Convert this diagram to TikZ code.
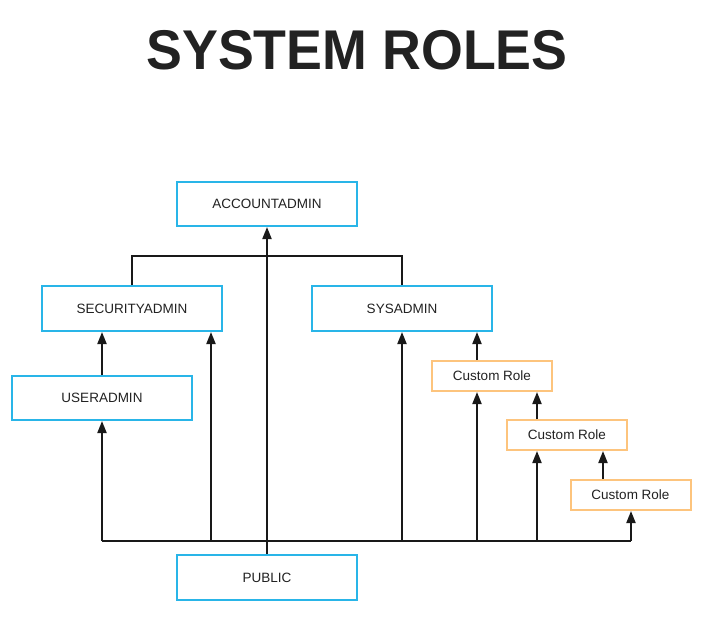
\documentclass[tikz,border=0pt]{standalone}
\usepackage{fontspec}
\setmainfont{Liberation Sans}
\usetikzlibrary{arrows.meta}
\definecolor{roleblue}{HTML}{29B5E8}
\definecolor{roleorange}{HTML}{FDC47D}
\definecolor{txt}{HTML}{222222}
\tikzset{
  sysrole/.style={draw=roleblue, line width=2pt, fill=white, minimum width=180pt, minimum height=44pt, inner sep=0pt, font=\fontsize{13.5}{15}\selectfont, text=txt},
  customrole/.style={draw=roleorange, line width=2pt, fill=white, minimum width=120pt, minimum height=30pt, inner sep=0pt, font=\fontsize{13.5}{15}\selectfont, text=txt},
  link/.style={draw=black!90, line width=2pt},
  up/.style={link, -{Triangle[length=12pt,width=9pt]}},
}
\begin{document}
\begin{tikzpicture}[x=1pt,y=-1pt]
\useasboundingbox (0,0) rectangle (705,633);
\node[anchor=base, text=txt] (title) at (357,69) {\scalebox{0.96}[1]{\fontsize{56}{60}\selectfont\bfseries SYSTEM ROLES}};

\node[sysrole] (acc) at (267,204) {ACCOUNTADMIN};
\node[sysrole, minimum height=45pt] (sec) at (132,308.5) {SECURITYADMIN};
\node[sysrole, minimum height=45pt] (sys) at (402,308.5) {SYSADMIN};
\node[sysrole] (usr) at (102,398) {USERADMIN};
\node[customrole] (c1) at (492,376) {Custom Role};
\node[customrole] (c2) at (567,435) {Custom Role};
\node[customrole] (c3) at (630.5,495) {Custom Role};
\node[sysrole, minimum height=45pt] (pub) at (267,577.5) {PUBLIC};

\coordinate (busL) at (102,541);
\coordinate (b2) at (211,541);
\coordinate (b4) at (402,541);
\coordinate (b5) at (477,541);
\coordinate (b6) at (537,541);
\coordinate (busR) at (631,541);
\coordinate (top) at (0,256);
\coordinate (c3x) at (603,0);

% bus
\draw[link] (busL) -- (busR);
% parent connector
\draw[link] (sec.north) -- (sec.north |- top) -| (sys.north);
% arrows from bus
\draw[up] (busL) -- (usr.south);
\draw[up] (b2) -- (sec.south -| b2);
\draw[up] (pub.north) -- (acc.south);
\draw[up] (b4) -- (sys.south);
\draw[up] (b5) -- (c1.south -| b5);
\draw[up] (b6) -- (c2.south -| b6);
\draw[up] (busR) -- (c3.south -| busR);
% chained arrows
\draw[up] (usr.north) -- (sec.south -| usr.north);
\draw[up] (c1.north -| b5) -- (sys.south -| b5);
\draw[up] (c2.north -| b6) -- (c1.south -| b6);
\draw[up] (c3.north -| c3x) -- (c2.south -| c3x);
\end{tikzpicture}
\end{document}
